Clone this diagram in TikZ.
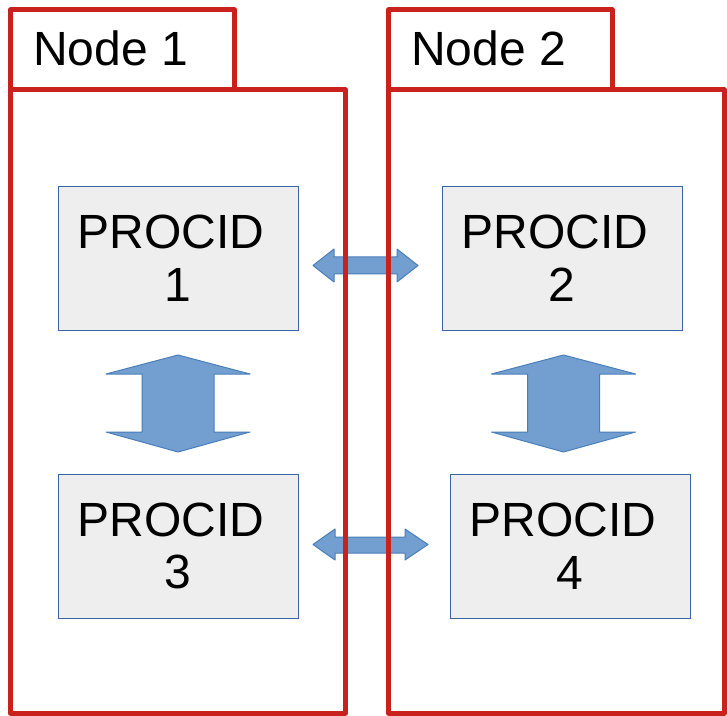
\documentclass[tikz,border=0pt]{standalone}
\usepackage{fontspec}
\setmainfont{Liberation Sans}
\definecolor{framered}{RGB}{201,33,30}
\definecolor{boxfill}{RGB}{238,238,238}
\definecolor{boxline}{RGB}{52,101,164}
\definecolor{arrowfill}{RGB}{114,159,207}
\definecolor{arrowline}{RGB}{74,126,187}
\tikzset{
  frame/.style={draw=framered, line width=3.75pt, line join=round},
  procbox/.style={draw=boxline, fill=boxfill, line width=0.6pt,
    minimum width=180pt, minimum height=108pt, inner sep=0pt,
    align=center, font=\fontsize{36}{39.5}\selectfont},
  title/.style={anchor=base west, inner sep=0pt, font=\fontsize{36}{42}\selectfont},
  blockarrow/.style={fill=arrowfill, draw=arrowline, line width=0.75pt, line join=round}
}
\begin{document}
\begin{tikzpicture}[x=0.75pt,y=-0.75pt]
  \useasboundingbox (0,0) rectangle (727,716);

  % process boxes
  \node[procbox] (p1) at (178,258) {PROCID\hspace*{0.28em}\\1};
  \node[procbox] (p2) at (562,258) {PROCID\hspace*{0.28em}\\2};
  \node[procbox] (p3) at (178,546) {PROCID\hspace*{0.28em}\\3};
  \node[procbox] (p4) at (570,546) {PROCID\hspace*{0.28em}\\4};

  % horizontal double arrows between the nodes
  \draw[blockarrow] (313,265.5) -- (334,249) -- (334,257) -- (397,257) -- (397,249)
    -- (418,265.5) -- (397,282) -- (397,274) -- (334,274) -- (334,282) -- cycle;
  \draw[blockarrow] (313,544.5) -- (335,529) -- (335,537) -- (405,537) -- (405,529)
    -- (428,544.5) -- (405,560) -- (405,553) -- (335,553) -- (335,560) -- cycle;

  % vertical double arrows inside each node
  \foreach \cx in {178,563.5}{
    \draw[blockarrow] (\cx,355) -- (\cx+72,374) -- (\cx+36,374) -- (\cx+36,432)
      -- (\cx+72,432) -- (\cx,452) -- (\cx-72,432) -- (\cx-36,432) -- (\cx-36,374)
      -- (\cx-72,374) -- cycle;
  }

  % node frames with title tabs
  \draw[frame] (10.5,90) rectangle (345.5,713);
  \draw[frame] (10.5,10) rectangle (234.5,90);
  \draw[frame] (388.5,90) rectangle (724,713);
  \draw[frame] (388.5,10) rectangle (612,90);

  \node[title] (n1) at (33,66) {Node 1};
  \node[title] (n2) at (411,66) {Node 2};
\end{tikzpicture}
\end{document}
